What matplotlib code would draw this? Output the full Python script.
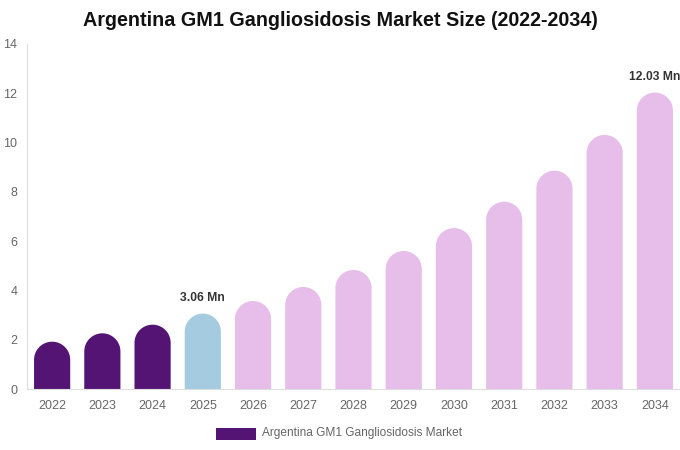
import numpy as np
import matplotlib.pyplot as plt
from matplotlib.patches import PathPatch, Rectangle
from matplotlib.path import Path

plt.rcParams['font.family'] = ['Liberation Sans', 'DejaVu Sans']

years = ['2022', '2023', '2024', '2025', '2026', '2027', '2028',
         '2029', '2030', '2031', '2032', '2033', '2034']
values = [1.92, 2.26, 2.61, 3.06, 3.57, 4.14, 4.83, 5.60, 6.53, 7.60, 8.86, 10.31, 12.03]
labels = {3: '3.06 Mn', 12: '12.03 Mn'}
legend_label = 'Argentina GM1 Gangliosidosis Market'

c_hist = '#531473'
c_base = '#a4cbe0'
c_fore = '#e7bde9'
colors = [c_hist] * 3 + [c_base] + [c_fore] * 9

fig = plt.figure(figsize=(6.8, 4.5), dpi=100)
ax = fig.add_axes([27 / 680, 1 - 389 / 450, 653 / 680, 345 / 450])
ax.set_xlim(-0.5, len(years) - 0.5)
ax.set_ylim(0, 14)

# bar width in data units, rounded top radius converted to y units
bw = 0.72
px_per_x = ax.bbox.width / len(years)
px_per_y = ax.bbox.height / 14
ry = (bw * px_per_x / 2) / px_per_y
theta = np.linspace(0, np.pi, 40)


def rounded_bar(x, h):
    # one outline: straight sides, half-ellipse on top
    arc_x = x + (bw / 2) * np.cos(theta)
    arc_y = (h - ry) + ry * np.sin(theta)
    xs = np.concatenate([[x + bw / 2], arc_x, [x - bw / 2, x + bw / 2]])
    ys = np.concatenate([[0], arc_y, [0, 0]])
    return Path(np.column_stack([xs, ys]))


for i, (v, c) in enumerate(zip(values, colors)):
    ax.add_patch(PathPatch(rounded_bar(i, v), facecolor=c, edgecolor='none'))
    if i in labels:
        ax.text(i, v + 0.4, labels[i], ha='center', va='bottom',
                fontsize=8.7, fontweight='bold', color='#333333')

ax.set_xticks(range(len(years)))
ax.set_xticklabels(years)
ax.set_yticks(range(0, 15, 2))
ax.tick_params(length=0, labelsize=9, colors='#666666', pad=8)
ax.tick_params(axis='y', pad=7)
for s in ['top', 'right']:
    ax.spines[s].set_visible(False)
ax.spines['left'].set_color('#dddddd')
ax.spines['bottom'].set_color('#dddddd')

fig.text(0.5, 1 - 21 / 450, 'Argentina GM1 Gangliosidosis Market Size (2022-2034)',
         ha='center', va='center', fontsize=14.2, fontweight='bold', color='#111111')

# legend
fig.patches.append(Rectangle((216 / 680, 1 - 440 / 450), 40 / 680, 12 / 450,
                             facecolor=c_hist, edgecolor='none',
                             transform=fig.transFigure, figure=fig))
fig.text(262 / 680, 1 - 433 / 450, legend_label, ha='left', va='center',
         fontsize=8.6, color='#666666')

fig.savefig('out.png', dpi=100)
